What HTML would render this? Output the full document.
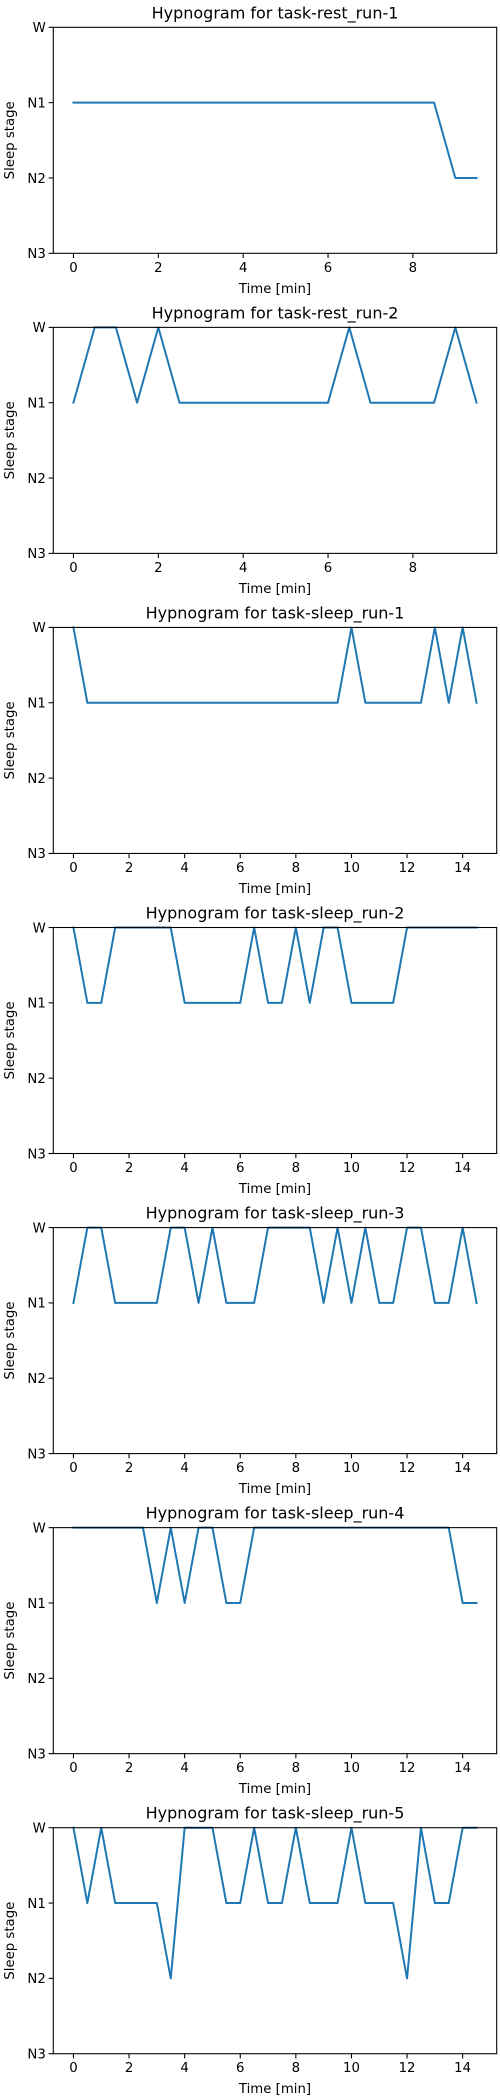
<!DOCTYPE html>
<html><head><meta charset="utf-8"><style>
html,body{margin:0;padding:0;background:#fff;}
svg{display:block;font-family:"DejaVu Sans","Liberation Sans",sans-serif;}
</style></head><body>
<svg id="fig" width="500" height="2100" viewBox="0 0 500 2100" xmlns="http://www.w3.org/2000/svg"></svg>
<script>
const titles = ["task-rest_run-1","task-rest_run-2","task-sleep_run-1","task-sleep_run-2","task-sleep_run-3","task-sleep_run-4","task-sleep_run-5"];
const stageLabels = ["W","N1","N2","N3"];
const rest1 = [1,1,1,1,1,1,1,1,1,1,1,1,1,1,1,1,1,1,2,2];
const rest2 = [1,0,0,1,0,1,1,1,1,1,1,1,1,0,1,1,1,1,0,1];
const sleep1 = [0,1,1,1,1,1,1,1,1,1,1,1,1,1,1,1,1,1,1,1,0,1,1,1,1,1,0,1,0,1];
const sleep2 = [0,1,1,0,0,0,0,0,1,1,1,1,1,0,1,1,0,1,0,0,1,1,1,1,0,0,0,0,0,0];
const sleep3 = [1,0,0,1,1,1,1,0,0,1,0,1,1,1,0,0,0,0,1,0,1,0,1,1,0,0,1,1,0,1];
const sleep4 = [0,0,0,0,0,0,1,0,1,0,0,1,1,0,0,0,0,0,0,0,0,0,0,0,0,0,0,0,1,1];
const sleep5 = [0,1,0,1,1,1,1,2,0,0,0,1,1,0,1,1,0,1,1,1,0,1,1,1,2,0,1,1,0,0];
const ticks10 = [0,2,4,6,8];
const ticks15 = [0,2,4,6,8,10,12,14];
const epochMin = 0.5;

const series = [rest1,rest2,sleep1,sleep2,sleep3,sleep4,sleep5];
const NS="http://www.w3.org/2000/svg";
const svg=document.getElementById('fig');
const L=53.3,R=496.7,H=226,TOP0=27.3,STEP=300.07;
function mk(tag,attrs,parent){const e=document.createElementNS(NS,tag);for(const k in attrs)e.setAttribute(k,attrs[k]);parent.appendChild(e);return e;}

series.forEach((vals,i)=>{
  const top=TOP0+STEP*i, bot=top+H;
  const g=mk('g',{},svg);
  
  
  const tmax=(vals.length-1)*epochMin;
  const pad=tmax*0.05;
  const xs=t=>L+(t+pad)/(tmax+2*pad)*(R-L);
  const ys=v=>top+v/3*H;
  const t=mk('text',{x:(L+R)/2,y:top-9,'text-anchor':'middle','font-size':'16'},g);
  t.textContent='Hypnogram for '+titles[i];
  
  
  const pts=vals.map((v,k)=>xs(k*epochMin).toFixed(2)+','+ys(v).toFixed(2)).join(' ');
  const pl=mk('polyline',{points:pts,fill:'none',stroke:'#1f77b4','stroke-width':'2','stroke-linejoin':'round','stroke-linecap':'square'},g);
  
  
  const fr=mk('rect',{x:L,y:top,width:R-L,height:H,fill:'none',stroke:'#000','stroke-width':'1.07'},g);
  
  
  stageLabels.forEach((s,k)=>{
    const y=ys(k);
    mk('line',{x1:L-4.7,x2:L,y1:y,y2:y,stroke:'#000','stroke-width':'1.07'},g);
    const tl=mk('text',{x:L-7.5,y:y+4.8,'text-anchor':'end','font-size':'13.3'},g);
    tl.textContent=s;
    
    
  });
  const tk=tmax>10?ticks15:ticks10;
  tk.forEach(v=>{
    const x=xs(v);
    mk('line',{x1:x,x2:x,y1:bot,y2:bot+4.7,stroke:'#000','stroke-width':'1.07'},g);
    const tl=mk('text',{x:x,y:bot+18.5,'text-anchor':'middle','font-size':'13.3'},g);
    tl.textContent=v;
    
    
  });
  const xl=mk('text',{x:(L+R)/2,y:bot+39.5,'text-anchor':'middle','font-size':'13.3'},g);
  xl.textContent='Time [min]';
  
  
  const cy=top+H/2;
  const yl=mk('text',{x:14,y:cy,'text-anchor':'middle','font-size':'13.3',transform:'rotate(-90 14 '+cy+')'},g);
  yl.textContent='Sleep stage';
  
  
});
</script>
</body></html>
